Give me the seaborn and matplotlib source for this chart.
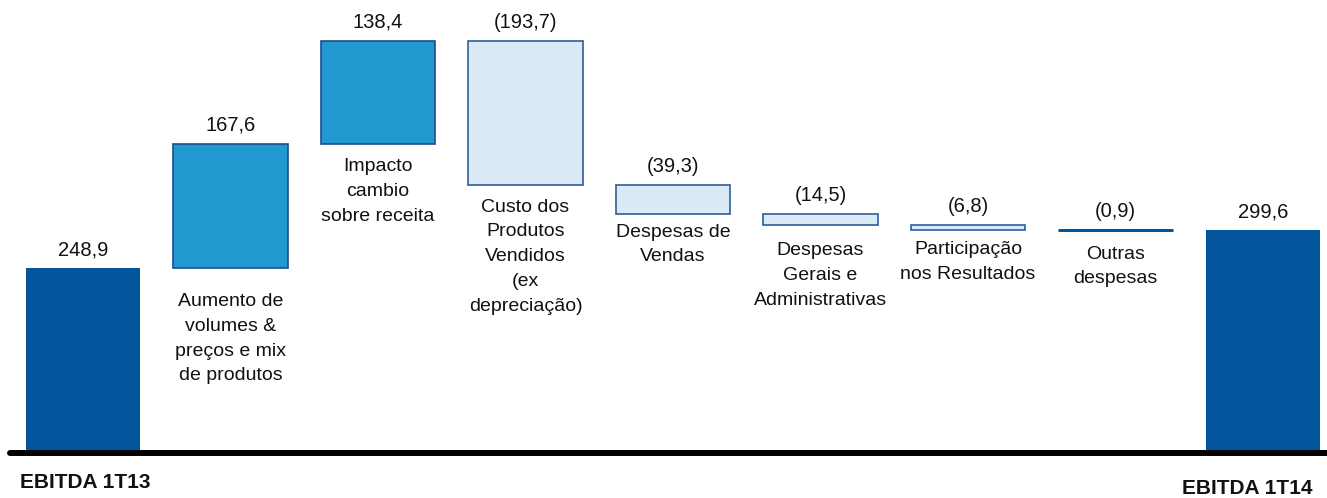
import numpy as np
import matplotlib
matplotlib.use('Agg')
import matplotlib.pyplot as plt
import seaborn as sns

# data
etapas = ['ini', 'vol', 'cambio', 'cpv', 'vendas', 'ga', 'plr', 'outras', 'fim']
rotulos = ['EBITDA 1T13',
           'Aumento de\nvolumes &\npreços e mix\nde produtos',
           'Impacto\ncambio\nsobre receita',
           'Custo dos\nProdutos\nVendidos\n(ex\ndepreciação)',
           'Despesas de\nVendas',
           'Despesas\nGerais e\nAdministrativas',
           'Participação\nnos Resultados',
           'Outras\ndespesas',
           'EBITDA 1T14']
ebitda_ini = 248.9
variacoes = [167.6, 138.4, -193.7, -39.3, -14.5, -6.8, -0.9]
ebitda_fim = 299.6

# waterfall geometry from the data
alturas = [ebitda_ini] + [abs(v) for v in variacoes] + [ebitda_fim]
acum = ebitda_ini + np.concatenate([[0], np.cumsum(variacoes)])
bases = [0.0] + [min(acum[i], acum[i + 1]) for i in range(len(variacoes))] + [0.0]
valores = [ebitda_ini] + variacoes + [ebitda_fim]

def fmt(v):
    s = f'{abs(v):.1f}'.replace('.', ',')
    return f'({s})' if v < 0 else s

C_TOT = '#00559B'
C_POS = '#2399D2'
C_NEG = '#DCEAF8'
E_POS = '#1F4E8C'
E_NEG = '#2F5D9A'
cores = [C_TOT] + [C_POS if v > 0 else C_NEG for v in variacoes] + [C_TOT]
bordas = [C_TOT] + [E_POS if v > 0 else E_NEG for v in variacoes] + [C_TOT]

sns.set_theme(style='white')
plt.rcParams['font.family'] = ['Liberation Sans', 'DejaVu Sans']

fig = plt.figure(figsize=(13.27, 4.98), dpi=100)
ax = fig.add_axes([0, 0, 1, 1])

sns.barplot(x=etapas, y=alturas, hue=etapas, palette=dict(zip(etapas, cores)),
            order=etapas, legend=False, width=0.775, ax=ax, saturation=1)
for i, (p, b, ec) in enumerate(zip(ax.patches, bases, bordas)):
    p.set_y(b)
    p.set_edgecolor(ec)
    p.set_linewidth(0 if i in (0, len(etapas) - 1) else 1.2)
# the tiny last variation is drawn as a line
ax.patches[7].set_linewidth(2.2)
ax.patches[7].set_edgecolor(C_TOT)

ax.set_xlim(-0.563, 8.434)
ax.set_ylim(-60.6, 609.7)
ax.axis('off')

# value labels
for i, (b, h, v) in enumerate(zip(bases, alturas, valores)):
    ax.annotate(fmt(v), (i, b + h), xytext=(0, 6.5), textcoords='offset points',
                ha='center', va='bottom', fontsize=14.5, color='#111111')

# category labels under floating bars
desloc = [0, 18, 10.5, 10, 7, 12.5, 8.5, 11, 0]
for i in range(1, len(etapas) - 1):
    ax.annotate(rotulos[i], (i, bases[i]), xytext=(0, -desloc[i]),
                textcoords='offset points', ha='center', va='top',
                fontsize=14, color='#111111', linespacing=1.6)

# baseline
ax.axhline(0, xmin=10 / 1327, xmax=1, color='black', lw=4.3)

fig.text(20 / 1327, 1 - 482 / 498, rotulos[0], ha='left', va='center',
         fontsize=15, fontweight='bold', color='#111111')
fig.text(1313 / 1327, 1 - 488 / 498, rotulos[-1], ha='right', va='center',
         fontsize=15, fontweight='bold', color='#111111')

fig.savefig('out.png', dpi=100, facecolor='white')
